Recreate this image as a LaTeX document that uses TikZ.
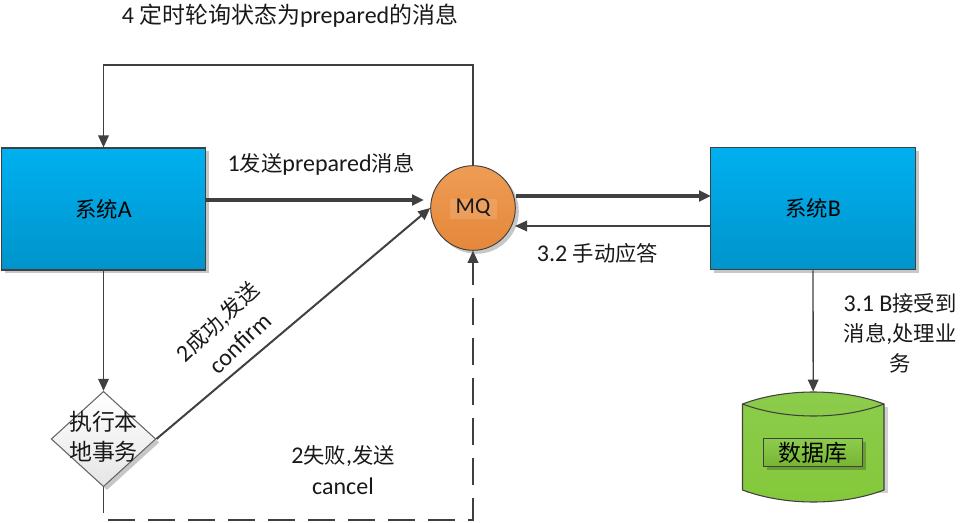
\documentclass[tikz,border=0pt]{standalone}
\usepackage{fontspec}
\setmainfont{Carlito}
\newfontfamily\cjk{Noto Sans CJK SC}
\usetikzlibrary{arrows.meta,shadows,shapes.geometric}
\newcommand{\zh}[1]{{\cjk\fontsize{16pt}{22.5pt}\selectfont #1}}
\newcommand{\zhw}[1]{{\cjk\fontsize{17.2pt}{22.5pt}\selectfont #1}}
\tikzset{
  x=0.75pt,y=-0.75pt,
  lbl/.style={inner sep=0pt,font=\fontsize{18pt}{22.5pt}\selectfont,text=black!90,align=center},
  softshadow/.style={drop shadow={shadow xshift=2.6pt,shadow yshift=-2.6pt,opacity=.22,fill=black}},
  sysbox/.style={rectangle,draw=ink,line width=.9pt,minimum width=153.5pt,minimum height=91.5pt,inner sep=0pt,
     top color=sysT,bottom color=sysB,softshadow,font=\fontsize{18pt}{22.5pt}\selectfont},
  line/.style={draw=ink,line width=1pt},
  arr/.style={line,-{Triangle[length=9pt,width=8pt]}},
  heavy/.style={arr,line width=2.4pt},
}
\definecolor{ink}{HTML}{404040}
\definecolor{sysT}{HTML}{00B0F0}
\definecolor{sysB}{HTML}{0094CB}
\definecolor{orT}{HTML}{EE9C55}
\definecolor{orB}{HTML}{E4873A}
\definecolor{grT}{HTML}{8CCC4C}
\definecolor{grB}{HTML}{84C83A}
\begin{document}
\begin{tikzpicture}
\useasboundingbox (0,0) rectangle (962,523);

% nodes
\node[sysbox] (A) at (103.5,209) {\zh{系统}A};
\node[sysbox] (B) at (813,208.7) {\zh{系统}B};
\node[circle,draw=ink,line width=.7pt,minimum size=63.5pt,inner sep=0pt,top color=orT,bottom color=orB,softshadow] (MQ) at (473,208) {};
\fill[orT!70!white,opacity=.35] (450,199) rectangle (497,219);
\node[lbl,font=\fontsize{17pt}{20pt}\selectfont] (MQt) at (473,208) {MQ};
\node[diamond,aspect=1.1,draw=ink!80,line width=.8pt,minimum width=78.5pt,minimum height=71.5pt,inner sep=0pt,top color=white,bottom color=black!10,softshadow] (D) at (103.5,439) {};
\node[lbl] (Dt) at (103.5,436.5) {\zhw{执行本}\\\zhw{地事务}};

% cylinder
\fill[black!18] (747,407) rectangle (888,493);
\path[draw=ink,line width=.8pt,top color=grT,bottom color=grB]
  (742.5,404) .. controls (785,388) and (842,388) .. (884,404)
  -- (884,490) .. controls (842,506) and (785,506) .. (742.5,490) -- cycle;
\draw[ink,line width=.8pt] (742.5,404) .. controls (785,420) and (842,420) .. (884,404);
\node[minimum width=106pt,minimum height=82pt,inner sep=0pt] (DB) at (813.2,446.5) {};
\node[rectangle,draw=ink,line width=.7pt,minimum width=74.5pt,minimum height=20.5pt,inner sep=0pt,top color=grT,bottom color=grB!90!black,softshadow] (DBi) at (813,452.5) {\zhw{数据库}};

% free coordinates
\coordinate (a1) at (424,200);
\coordinate (b1) at (711,196);
\coordinate (c1) at (515,226);
\coordinate (t1) at (473,65);
\coordinate (t2) at (103.5,65);
\coordinate (d1) at (103.5,513);
\coordinate (d2) at (108,520);
\coordinate (d3) at (473,520);

% connectors
\draw[heavy] (A.east |- a1) -- (a1);
\draw[heavy] (MQ.east |- b1) -- (b1);
\draw[arr] (B.west |- c1) -- (c1);
\draw[line,-{Triangle[length=9pt,width=8pt]}] (MQ.north) -- (t1) -- (t2) -- (A.north);
\draw[arr] (A.south) -- (D.north);
\draw[arr,line width=1.5pt] (D.east) -- (MQ.west);
\draw[line] (D.south) -- (d1);
\draw[arr,dash pattern=on 20pt off 10pt,line width=1.1pt] (d2) -- (d3) -- (MQ.south);
\draw[arr] (B.south) -- (DB.north);

% labels
\node[lbl] (L4) at (290,16) {4 \zhw{定时轮询状态为}prepared\zhw{的消息}};
\node[lbl] (L1) at (321,164) {1\zh{发送}prepared\zh{消息}};
\node[lbl] (L32) at (597.5,253) {3.2 \zh{手动应答}};
\node[lbl] (L31) at (900,333.5) {3.1 B\zh{接受到}\\\zh{消息}\hspace{0pt},\zh{处理业}\\\zh{务}};
\node[lbl,rotate=44] (L2a) at (218,322) {2\zh{成功}\hspace{0pt},\zh{发送}};
\node[lbl,rotate=44] (L2b) at (240,343) {confirm};
\node[lbl] (L2c) at (343,456) {2\zh{失败}\hspace{0pt},\zh{发送}};
\node[lbl] (L2d) at (343,486) {cancel};
\end{tikzpicture}
\end{document}
